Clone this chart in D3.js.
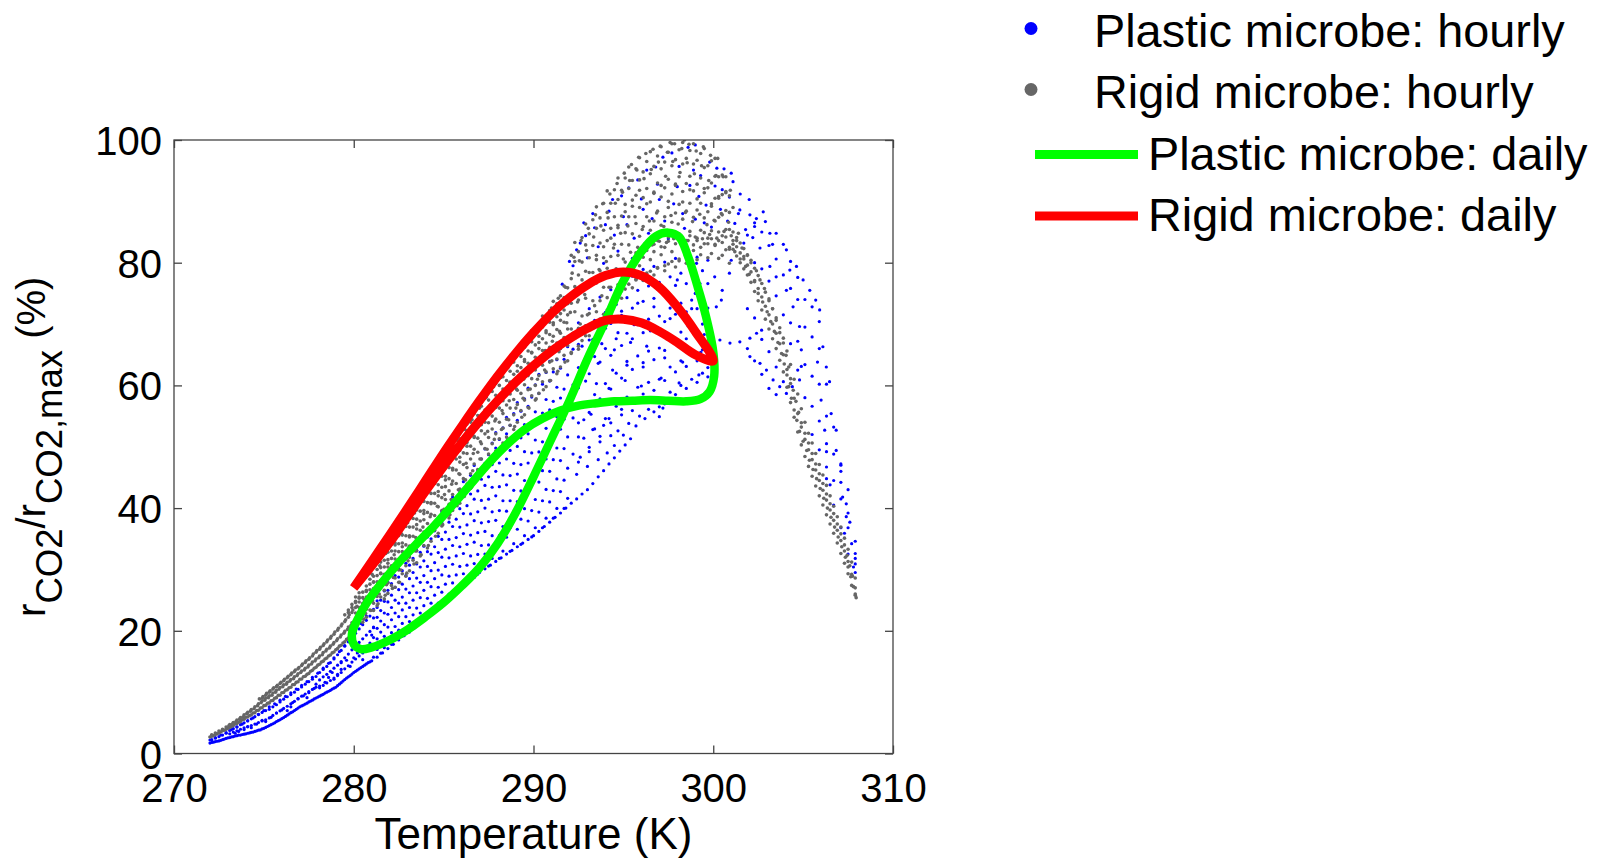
<!DOCTYPE html>
<html>
<head>
<meta charset="utf-8">
<script src="https://cdn.jsdelivr.net/npm/d3@7"></script>
<style>
  html, body { margin: 0; padding: 0; background: #fff; }
  svg { display: block; }
  text { font-family: "Liberation Sans", Arial, Helvetica, sans-serif; fill: #000; }
</style>
</head>
<body>
<svg id="chart" width="1603" height="859"></svg>
<script>
// Axis ticks
const xTicks = [270, 280, 290, 300, 310];
const yTicks = [0, 20, 40, 60, 80, 100];

// Legend entries
const legendLabels = [
  "Plastic microbe: hourly",
  "Rigid microbe: hourly",
  "Plastic microbe: daily",
  "Rigid microbe: daily"
];

// Rigid microbe, hourly values [temperature K, rCO2/rCO2,max %]
const rigidCool = [
  [272.0,2.7],[272.2,2.9],[272.4,3.2],[272.6,3.5],[272.8,3.8],
  [273.0,4.1],[273.05,4.5],[273.2,4.4],[273.25,4.8],[273.4,4.8],[273.45,5.2],[273.6,5.1],[273.65,5.6],
  [273.8,5.5],[273.85,6.0],[274.0,5.9],[274.05,6.5],[274.2,6.2],[274.25,6.9],[274.4,6.6],[274.45,7.3],
  [274.6,7.0],[274.65,7.8],[274.8,7.4],[274.85,8.3],[274.75,8.9],[275.0,7.8],[275.05,8.7],[274.95,9.3],
  [275.2,8.2],[275.25,9.1],[275.15,9.8],[275.4,8.6],[275.45,9.5],[275.35,10.2],[275.6,9.0],[275.65,10.0],
  [275.55,10.7],[275.8,9.5],[275.85,10.5],[275.75,11.1],[276.0,9.9],[276.05,10.9],[275.95,11.6],
  [276.2,10.3],[276.25,11.3],[276.15,12.1],[276.4,10.7],[276.45,11.8],[276.35,12.6],[276.6,11.2],
  [276.65,12.2],[276.55,13.1],[276.8,11.6],[276.85,12.7],[276.75,13.6],[277.0,12.1],[277.05,13.2],
  [276.95,14.0],[277.2,12.5],[277.25,13.6],[277.15,14.6],[277.4,12.9],[277.45,14.1],[277.35,15.1],
  [277.6,13.4],[277.65,14.6],[277.55,15.6],[277.8,13.9],[277.85,15.1],[277.75,16.2],[278.0,14.4],
  [278.05,15.6],[277.95,16.8],[278.2,14.9],[278.25,16.1],[278.15,17.3],[278.4,15.4],[278.45,16.7],
  [278.35,17.9],[278.6,15.9],[278.65,17.2],[278.55,18.5],[278.8,16.4],[278.85,17.8],[278.75,19.1],
  [279.0,16.9],[279.05,18.4],[278.95,19.8],[279.2,17.5],[279.25,19.0],[279.15,20.4],[279.4,18.0],
  [279.45,19.6],[279.35,21.1],[279.6,18.6],[279.65,20.2],[279.55,21.8],[279.7,23.0],[279.8,19.2],
  [279.85,20.9],[279.75,22.6],[279.9,23.8],[280.0,19.8],[280.05,21.6],[279.95,23.4],[280.1,24.8]
];

const rigidMid = [
  [280.15,20.8],[280.22,22.4],[280.18,24.0],[280.3,25.3],[280.25,21.6],
  [280.55,21.9],[280.62,23.6],[280.58,25.1],[280.7,26.6],[280.66,22.8],
  [280.95,23.3],[281.05,24.9],[281.0,26.4],[281.1,28.0],[281.02,29.2],
  [281.35,24.4],[281.42,26.0],[281.4,27.7],[281.5,29.4],[281.45,30.6],
  [281.75,25.8],[281.82,27.5],[281.85,29.3],[281.9,31.0],[281.78,32.6],
  [282.15,26.9],[282.2,28.7],[282.28,30.6],[282.25,32.4],[282.3,34.0],
  [282.55,27.9],[282.62,29.9],[282.6,31.8],[282.7,33.7],[282.65,35.8],
  [282.95,29.4],[283.02,31.4],[283.05,33.5],[283.1,35.5],[283.0,37.6],
  [283.35,30.9],[283.42,33.0],[283.45,35.2],[283.5,37.3],[283.38,39.2],
  [283.75,32.4],[283.8,34.6],[283.85,36.9],[283.9,39.1],[283.82,41.2],
  [284.15,33.9],[284.22,36.2],[284.25,38.6],[284.3,40.9],[284.2,43.0],
  [284.55,35.4],[284.62,37.8],[284.65,40.3],[284.7,42.7],[284.6,45.1],
  [284.95,37.3],[285.02,39.8],[285.05,42.2],[285.1,44.6],[285.0,47.0],
  [285.35,38.9],[285.42,41.4],[285.45,43.9],[285.5,46.5],[285.38,49.1],
  [285.75,40.4],[285.82,43.0],[285.85,45.6],[285.9,48.3],[285.78,51.0],
  [286.15,41.9],[286.22,44.6],[286.25,47.3],[286.3,50.1],[286.18,52.8],[286.3,53.7],
  [286.55,43.4],[286.62,46.1],[286.65,48.9],[286.7,51.7],[286.58,54.4],
  [286.95,45.3],[287.02,48.0],[287.05,50.8],[287.1,53.6],[287.0,56.3],[287.1,57.2],
  [287.35,46.8],[287.42,49.6],[287.45,52.5],[287.5,55.3],[287.38,58.1],
  [287.75,48.3],[287.82,51.2],[287.85,54.2],[287.9,57.1],[287.78,59.8],
  [288.15,49.8],[288.22,52.8],[288.25,55.9],[288.3,58.8],[288.18,61.3],
  [288.55,51.3],[288.62,54.4],[288.65,57.5],[288.7,60.5],[288.58,62.9],
  [288.95,53.3],[289.02,56.3],[289.05,59.4],[289.1,62.3],[289.0,64.6],
  [289.35,54.8],[289.42,57.9],[289.45,61.0],[289.5,63.9],[289.38,66.2],
  [289.75,56.3],[289.82,59.4],[289.85,62.6],[289.9,65.4],[289.78,67.6],
  [290.15,57.8],[290.22,61.0],[290.25,64.2],[290.3,67.0],[290.18,69.2],
  [290.55,59.3],[290.62,62.5],[290.65,65.7],[290.7,68.6],[290.58,70.7],
  [290.95,60.8],[291.02,64.0],[291.05,67.2],[291.1,70.2],[291.0,72.6],
  [291.35,62.3],[291.42,65.5],[291.45,68.8],[291.5,71.7],[291.38,74.2],
  [291.75,63.8],[291.82,67.0],[291.85,70.2],[291.9,73.3],[291.78,76.0]
];

const rigidPeak = [
  [292.1,65.2],[292.2,68.5],[292.05,71.9],[292.3,75.1],[292.15,78.3],[292.25,80.9],
  [292.5,66.4],[292.6,70.0],[292.45,73.6],[292.7,77.2],[292.55,80.3],[292.65,83.6],
  [292.9,68.1],[293.0,71.5],[292.85,74.8],[293.1,78.4],[292.95,82.0],[293.05,85.6],
  [293.3,69.3],[293.4,73.0],[293.25,76.8],[293.5,80.5],[293.35,84.2],[293.45,87.8],
  [293.7,70.8],[293.8,74.6],[293.65,78.9],[293.9,82.6],[293.75,86.0],[293.85,89.6],
  [294.1,72.3],[294.2,76.0],[294.05,80.2],[294.3,84.0],[294.15,87.3],[294.25,91.2],
  [294.5,73.9],[294.6,79.0],[294.45,82.4],[294.7,86.1],[294.55,89.7],[294.65,92.9],
  [294.9,75.4],[295.0,80.6],[294.85,84.8],[295.1,88.3],[294.95,91.5],[295.05,94.6],
  [295.3,76.5],[295.4,81.7],[295.25,86.0],[295.5,90.2],[295.35,93.4],[295.45,96.0],
  [295.7,77.3],[295.8,82.5],[295.65,87.5],[295.9,91.8],[295.75,95.1],[295.85,97.2],
  [296.1,78.0],[296.2,83.1],[296.05,85.4],[296.3,89.6],[296.15,93.7],[296.25,97.8],
  [296.5,78.6],[296.6,82.9],[296.45,86.8],[296.7,91.3],[296.55,95.2],[296.65,98.5],
  [296.9,79.1],[297.0,83.5],[296.85,88.1],[297.1,92.6],[296.95,96.4],[297.05,99.0],
  [297.3,79.5],[297.4,83.3],[297.25,85.9],[297.5,90.0],[297.35,94.1],[297.45,98.0],[297.6,99.6],
  [297.7,80.2],[297.8,83.9],[297.65,87.7],[297.9,92.8],[297.75,96.5],[297.85,99.4],
  [298.1,80.6],[298.2,84.1],[298.05,86.3],[298.3,89.9],[298.15,94.7],[298.25,98.6],[298.4,100.0],
  [298.5,81.3],[298.6,83.6],[298.45,88.2],[298.7,91.9],[298.55,96.3],[298.65,99.3],
  [298.9,82.0],[299.0,84.2],[298.85,86.7],[299.1,90.4],[298.95,94.5],[299.05,98.2],
  [299.3,82.5],[299.4,83.9],[299.25,87.9],[299.5,92.1],[299.35,95.8],[299.45,98.9],
  [299.7,83.1],[299.8,84.6],[299.65,86.2],[299.9,89.6],[299.75,93.4],[299.85,97.5],
  [300.1,82.8],[300.2,84.0],[300.05,86.9],[300.3,90.5],[300.15,94.2],[300.25,97.0],
  [300.5,83.3],[300.6,85.1],[300.45,88.0],[300.7,91.4],[300.55,94.0],
  [300.9,82.5],[301.0,84.4],[300.85,86.6],[301.1,89.0],[300.95,91.8],
  [296.3,82.0],[296.7,83.0],[297.1,82.6],[297.5,83.5],[297.9,84.2],[298.3,83.2],[298.7,84.4],
  [299.1,83.6],[299.5,84.9],[299.9,83.9],[300.3,85.0],[300.7,84.2],[301.1,83.0],[301.4,84.8],[301.7,81.0]
];

const rigidHot = [
  [301.2,81.8],[301.3,83.6],[301.5,80.6],[301.6,82.4],[301.8,79.4],[301.9,81.2],[302.0,78.1],
  [302.1,80.0],[302.3,76.9],[302.4,78.7],[302.5,75.0],[302.6,77.2],[302.75,73.6],[302.85,75.8],
  [303.0,72.0],[303.1,74.1],[303.2,70.4],[303.3,72.5],[303.4,68.8],[303.5,70.6],[303.6,67.0],
  [303.7,68.6],[303.8,65.2],[303.9,66.9],[303.95,63.5],[304.05,64.9],[304.1,61.7],[304.2,63.0],
  [304.2,59.8],[304.3,61.1],[304.35,57.9],[304.45,59.2],[304.5,56.0],[304.6,57.4],[304.65,54.3],
  [304.75,55.6],[304.8,52.5],[304.9,53.9],[305.0,50.9],[305.1,52.2],[305.2,49.4],[305.3,50.6],
  [305.35,47.8],[305.5,48.9],[305.55,46.3],[305.7,47.2],[305.75,44.8],[305.9,45.6],[305.95,43.2],
  [306.1,44.0],[306.15,41.6],[306.3,42.3],[306.35,40.0],[306.5,40.7],[306.55,38.5],[306.7,39.1],
  [306.75,36.9],[306.9,37.4],[306.95,35.3],[307.1,35.8],[307.15,33.7],[307.3,34.0],[307.35,32.0],
  [307.45,32.3],[307.5,30.4],[307.6,30.6],[307.65,28.8],[307.75,28.9],[307.8,27.2],[307.9,26.0],
  [307.95,25.4]
];

// Further rigid readings, one row per temperature: [T, r, r, ...]
const rigidColumnsCool = [
  [272.1,2.8,3.05],[272.3,3.1,3.35],[272.5,3.35,3.65],[272.7,3.7,3.95],[272.9,3.95,4.3],
  [273.1,4.25,4.7],[273.3,4.55,5.05],[273.5,4.9,5.45],[273.7,5.2,5.85],[273.9,5.6,6.3],
  [274.1,5.95,6.7],[274.3,6.3,7.15],[274.5,6.65,7.6],[274.7,7.05,8.1],[274.9,7.45,8.55,9.0],
  [275.1,7.85,9.0,9.5],[275.3,8.25,9.4,10.0],[275.5,8.65,9.85,10.5],[275.7,9.1,10.3,10.9],
  [275.9,9.5,10.75,11.4],[276.1,9.95,11.2,11.85],[276.3,10.4,11.6,12.35],[276.5,10.8,12.05,12.85],
  [276.7,11.25,12.5,13.35],[276.9,11.7,13.0,13.8],[277.1,12.15,13.45,14.35],[277.3,12.6,13.9,14.85],
  [277.5,13.05,14.4,15.35],[277.7,13.55,14.9,15.9],[277.9,14.05,15.4,16.5],[278.1,14.55,15.9,17.0],
  [278.3,15.05,16.45,17.6],[278.5,15.55,17.0,18.2],[278.7,16.05,17.5,18.8],[278.9,16.55,18.1,19.45],
  [279.1,17.1,18.7,20.1],[279.3,17.65,19.3,20.8],[279.5,18.2,19.9,21.5,22.6],[279.7,18.8,20.6,22.2,23.4],
  [279.9,19.4,21.3,23.0,24.3]
];

const rigidColumnsMid = [
  [280.1,20.6,21.8,22.9,23.8,24.6,25.5],[280.3,21.6,22.8,23.8,24.7,25.5,26.2],
  [280.5,21.4,22.5,23.6,24.5,25.4,26.3],[280.7,22.2,23.5,24.6,25.5,26.4,27.3],
  [280.9,23.4,24.7,25.8,26.7,27.6,28.4],[281.1,23.3,24.5,25.8,26.9,27.9,28.9],
  [281.3,24.1,25.6,26.9,28.0,29.0,30.0],[281.5,25.5,27.0,28.2,29.3,30.3,31.2],
  [281.7,25.2,26.6,28.0,29.2,30.4,31.5],[281.9,26.1,27.8,29.2,30.4,31.6,32.8],
  [282.1,27.4,29.1,30.6,31.8,33.0,34.1],[282.3,27.1,28.6,30.3,31.7,33.0,34.3],
  [282.5,27.9,29.9,31.5,32.9,34.2,35.5],[282.7,29.3,31.3,32.9,34.3,35.6,36.8],
  [282.9,28.9,30.6,32.5,34.0,35.5,37.0],[283.1,29.8,32.0,33.8,35.3,36.9,38.3],
  [283.3,31.5,33.6,35.4,36.9,38.3,39.7],[283.5,31.1,33.0,34.9,36.6,38.2,39.7],
  [283.7,32.2,34.5,36.4,37.9,39.5,41.0],[283.9,33.9,36.1,38.1,39.6,41.1,42.5],
  [284.1,33.5,35.5,37.5,39.3,40.9,42.6],[284.3,34.6,37.0,39.0,40.7,42.4,44.0],
  [284.5,36.4,38.8,40.8,42.4,44.0,45.5],[284.7,35.9,38.0,40.2,42.0,43.8,45.5],
  [284.9,37.1,39.6,41.7,43.4,45.2,46.8],[285.1,39.0,41.4,43.5,45.2,46.8,48.4],
  [285.3,38.4,40.6,42.8,44.8,46.6,48.4],[285.5,39.6,42.2,44.4,46.2,48.1,49.8],
  [285.7,41.4,44.0,46.2,48.0,49.7,51.4],[285.9,40.8,43.1,45.5,47.5,49.4,51.3],
  [286.1,42.0,44.8,47.1,49.0,51.0,52.8],[286.3,43.9,46.6,48.9,50.7,52.6,54.3],
  [286.5,43.2,45.6,48.0,50.1,52.0,54.0],[286.7,44.4,47.2,49.6,51.5,53.5,55.4],
  [286.9,46.3,49.1,51.4,53.3,55.1,56.9],[287.1,45.6,48.0,50.5,52.6,54.6,56.6],
  [287.3,46.9,49.7,52.1,54.0,56.0,57.9],[287.5,48.8,51.5,53.9,55.7,57.6,59.3],
  [287.7,48.1,50.5,52.9,55.0,57.0,59.0],[287.9,49.3,52.1,54.5,56.4,58.4,60.3],
  [288.1,51.3,54.0,56.3,58.1,60.0,61.7],[288.3,50.6,53.0,55.4,57.5,59.4,61.4],
  [288.5,51.6,54.5,56.8,58.8,60.8,62.7],[288.7,53.5,56.3,58.6,60.5,62.3,64.1],
  [288.9,52.8,55.2,57.7,59.8,61.8,63.8],[289.1,54.0,56.9,59.2,61.2,63.2,65.1],
  [289.3,55.9,58.7,61.0,62.9,64.7,66.5],[289.5,55.2,57.6,60.1,62.2,64.2,66.2],
  [289.7,56.4,59.3,61.6,63.6,65.6,67.5],[289.9,58.3,61.1,63.4,65.3,67.1,68.9],
  [290.1,57.6,60.0,62.5,64.6,66.6,68.6],[290.3,58.7,61.6,64.0,66.0,68.0,69.9],
  [290.5,60.6,63.3,65.7,67.6,69.5,71.3],[290.7,59.8,62.2,64.7,66.9,68.9,70.9],
  [290.9,60.8,63.8,66.2,68.3,70.3,72.2],[291.1,62.7,65.5,68.0,69.9,71.9,73.7],
  [291.3,61.9,64.3,66.9,69.1,71.2,73.3],[291.5,63.0,66.0,68.5,70.6,72.6,74.6],
  [291.7,64.9,67.8,70.3,72.3,74.3,76.2],[291.9,64.0,66.5,69.2,71.5,73.7,75.9]
];

const rigidColumnsPeak = [
  [292.1,65.4,69.2,73.4,77.4,81.2],[292.3,67.7,72.0,76.1,80.2,83.3],[292.5,65.9,69.3,73.9,78.0,81.8],
  [292.7,67.3,71.3,75.8,80.1,84.1],[292.9,69.7,74.2,78.6,82.9,86.3],[293.1,68.1,71.7,76.4,80.8,84.7],
  [293.3,69.6,73.8,78.4,82.8,87.0],[293.5,72.0,76.7,81.2,85.6,89.1],[293.7,70.1,73.8,78.7,83.2,87.3],
  [293.9,71.6,76.0,80.8,85.3,89.7],[294.1,74.3,79.1,83.6,88.2,91.7],[294.3,72.3,76.0,81.0,85.6,89.7],
  [294.5,73.8,78.2,83.0,87.5,91.9],[294.7,76.4,81.2,85.7,90.3,93.8],[294.9,74.2,78.0,83.0,87.6,91.8],
  [295.1,75.7,80.1,84.9,89.5,93.8],[295.3,78.1,82.9,87.5,92.1,95.6],[295.5,75.9,79.7,84.7,89.2,93.4],
  [295.7,77.2,81.6,86.4,91.0,95.3],[295.9,79.5,84.3,89.0,93.5,97.1],[296.1,77.1,80.9,85.9,90.6,94.8],
  [296.3,78.3,82.7,87.5,92.1,96.5],[296.5,80.5,85.3,89.9,94.5,98.1],[296.7,78.0,81.8,86.8,91.5,95.7],
  [296.9,79.2,83.6,88.4,93.0,97.4],[297.1,81.3,86.1,90.7,95.3,98.9],[297.3,78.7,82.5,87.5,92.2,96.4],
  [297.5,79.8,84.2,89.0,93.6,98.0],[297.7,81.8,86.6,91.2,95.8,99.4],[297.9,79.3,83.1,88.1,92.6,96.8],
  [298.1,80.3,84.7,89.5,94.0,98.4],[298.3,82.4,87.1,91.6,96.1,99.6],[298.5,79.9,83.6,88.4,92.9,97.0],
  [298.7,80.9,85.1,89.7,94.1,98.3],[298.9,82.9,87.4,91.7,96.1,99.4],[299.1,80.5,84.0,88.6,92.8,96.7],
  [299.3,81.3,85.3,89.7,93.8,97.8],[299.5,83.1,87.3,91.4,95.5,98.6],[299.7,80.8,84.0,88.3,92.2,95.8],
  [299.9,81.5,85.2,89.2,93.0,96.6],[300.1,83.0,86.8,90.5,94.1,97.0],[300.3,80.7,83.6,87.4,90.8,94.0],
  [300.5,81.2,84.4,87.8,91.1,94.3],[300.7,82.1,85.4,88.5,91.6,94.0],[300.9,79.9,82.2,85.4,88.2,90.9]
];

const rigidColumnsHot = [
  [301.1,82.2,83.6,85.0],[301.3,81.1,82.6,84.1],[301.5,80.0,81.6,83.2],[301.7,79.0,80.6,82.3],
  [301.9,78.0,79.6,81.3],[302.1,76.8,78.5,80.4],[302.3,75.3,77.1,79.1],[302.5,73.8,75.8,77.9],
  [302.7,72.3,74.4,76.6],[302.9,70.8,72.9,75.2],[303.1,69.2,71.5,73.8],[303.3,67.6,70.0,72.5],
  [303.5,66.0,68.5,71.0],[303.7,64.1,66.8,69.4],[303.9,62.2,65.0,67.7],[304.1,59.7,62.6,65.6],
  [304.3,57.2,60.3,63.4],[304.5,54.8,57.9,61.0],[304.7,52.4,55.4,58.6],[304.9,50.3,53.2,56.2],
  [305.1,48.4,51.2,54.0],[305.3,46.8,49.5,52.2],[305.5,45.2,47.9,50.6],[305.7,43.6,46.2,48.9],
  [305.9,42.0,44.5,47.1],[306.1,40.5,42.9,45.4],[306.3,38.9,41.3,43.7],[306.5,37.4,39.7,42.0],
  [306.7,35.9,38.0,40.3],[306.9,34.3,36.4,38.6],[307.1,32.6,34.7,36.9],[307.3,31.0,33.0,35.1],
  [307.5,29.3,31.3,33.3],[307.7,27.4,29.2,31.2],[307.9,25.8,27.0,28.6]
];

// Plastic microbe, hourly values [temperature K, rCO2/rCO2,max %]
const plasticCool = [
  [272.0,1.7],[272.2,1.85],[272.4,2.0],[272.6,2.15],[272.8,2.35],[273.0,2.55],[273.2,2.7],[273.4,2.85],
  [273.6,3.0],[273.8,3.1],[274.0,3.2],[274.2,3.35],[274.4,3.5],[274.6,3.7],[274.8,3.85],[275.0,4.1],
  [275.2,4.4],[275.4,4.7],[275.6,5.0],[275.8,5.35],[276.0,5.7],[276.2,6.05],[276.4,6.45],[276.6,6.8],
  [276.8,7.2],[277.0,7.6],[277.2,7.9],[277.4,8.2],[277.6,8.55],[277.8,8.9],[278.0,9.2],[278.2,9.5],
  [278.4,9.85],[278.6,10.15],[278.8,10.5],[279.0,10.8],[279.2,11.3],[279.4,11.8],[279.6,12.3],
  [279.8,12.7],[280.0,13.2],[280.2,13.6],[280.4,14.0],[280.6,14.4],[280.8,14.8],[281.0,15.1],
  [272.0,2.2],[272.3,2.6],[272.6,3.0],[272.9,3.4],[273.2,3.9],[273.5,4.3],[273.8,4.8],[274.1,5.3],
  [274.4,5.8],[274.7,6.4],[275.0,7.0],[275.3,7.6],[275.6,8.1],[275.9,8.7],[276.2,9.3],[276.5,9.9],
  [276.8,10.5],[277.1,11.1],[277.4,11.7],[277.7,12.4],[278.0,13.1],[278.3,13.9],[278.6,14.7],
  [278.9,15.6],[279.2,16.6],[279.5,17.6],[279.8,18.8],[280.1,20.0],[280.4,21.2],[280.7,22.4],
  [273.4,3.3],[273.6,3.6],[273.9,3.9],[274.1,4.4],[274.3,4.2],[274.6,4.8],[274.9,5.4],[275.1,5.2],
  [275.4,5.9],[275.7,6.6],[276.0,7.1],[276.3,7.0],[276.5,7.6],[276.6,8.3],[276.9,8.9],[277.2,9.4],
  [277.4,9.1],[277.5,9.9],[277.8,10.6],[277.9,11.3],[278.1,11.0],[278.4,11.6],[278.6,12.4],
  [278.8,13.2],[278.9,12.1],[279.1,12.9],[279.3,13.7],[279.3,14.8],[279.6,15.2],[279.8,14.2],
  [280.0,15.6],[280.2,16.4],[280.3,17.5],[280.5,15.3],[280.7,16.8],[280.9,18.0],[281.0,19.3],[281.1,20.6]
];

const plasticMid = [
  [281.3,15.7],[281.6,16.4],[281.9,17.1],[282.2,17.8],[282.5,18.5],[282.8,19.2],[283.1,19.8],[283.4,20.5],
  [283.7,21.3],[284.0,22.0],[284.3,22.7],[284.6,23.5],[284.9,24.2],[285.2,25.0],[285.5,25.7],[285.8,26.5],
  [286.1,27.2],[286.4,28.0],[286.7,28.7],[287.0,29.5],[287.3,30.1],[287.6,30.7],[287.9,31.3],[288.2,31.9],
  [288.5,32.5],[288.8,33.1],[289.1,33.7],[289.4,34.3],[289.7,34.9],[290.0,35.5],[290.3,36.2],[290.6,37.0],
  [290.9,37.7],[291.2,38.5],[291.5,39.2],[291.8,40.0],[292.1,40.8],[292.4,41.5],[292.7,42.3],[293.0,43.0],
  [293.3,44.0],[293.6,45.1],[293.9,46.1],[294.2,47.2],[294.5,48.2],[294.8,49.3],[295.1,50.3],[295.4,51.3],
  [292.4,45.5],[292.6,48.3],[292.5,51.6],[292.8,54.4],[293.0,46.8],[293.1,49.9],[293.3,52.8],
  [293.2,55.3],[293.6,47.9],[293.7,50.8],[293.9,53.5],[294.1,49.0],[294.3,51.8],[294.2,54.6],
  [294.5,50.2],[294.7,52.6],[294.9,55.2],[295.0,51.9],[295.3,53.8],[295.5,55.9],[295.7,53.4],
  [295.9,55.0],[296.2,54.6],[296.4,56.1],[296.7,55.7],[297.0,54.9],[297.2,56.3]
];

const plasticPeak = [
  [292.3,59.8],[292.5,62.9],[292.7,66.4],[292.9,60.7],[293.1,64.1],[293.3,67.5],[293.5,60.3],
  [293.6,63.6],[293.8,66.8],[294.0,69.3],[294.2,59.5],[294.4,62.5],[294.5,65.8],[294.7,68.6],
  [294.9,72.1],[295.1,60.8],[295.2,63.9],[295.4,67.0],[295.6,69.9],[295.8,73.4],[296.0,59.9],
  [296.1,63.0],[296.3,66.4],[296.5,68.9],[296.7,72.8],[296.9,75.7],[297.1,61.2],[297.3,64.5],
  [297.4,67.6],[297.6,70.9],[297.8,73.9],[298.0,77.2],[298.1,60.4],[298.3,63.8],[298.5,66.2],
  [298.6,69.7],[298.8,72.5],[299.0,75.0],[299.2,61.7],[299.3,65.4],[299.5,68.3],[299.7,62.9],
  [291.6,76.5],[292.0,80.2],[292.2,79.5],[292.6,83.2],[292.8,86.5],[293.0,80.8],[293.4,85.7],
  [293.9,79.9],[294.2,88.4],[294.5,84.5],[294.9,90.9],[295.2,86.2],[295.5,80.7],[295.8,93.5],
  [296.1,88.7],[296.4,84.8],[296.8,95.6],[297.0,90.3],[297.3,86.8],[297.7,97.9],[298.0,92.4],
  [298.3,88.0],[298.6,98.8],[298.9,95.1],[299.2,90.8],[299.5,86.5],[299.8,96.4],[300.1,92.5],
  [300.4,88.7],[300.6,95.3],[300.9,90.7],[301.2,86.4],[301.5,91.2],[301.8,85.4],[302.2,84.1],
  [302.4,87.2],[301.0,94.6],[299.0,99.2],
  [292.4,82.1],[292.9,84.4],[293.3,88.0],[293.6,82.6],[294.0,86.2],[294.4,90.3],[294.7,81.9],
  [295.0,87.5],[295.3,92.2],[295.6,84.0],[296.0,90.4],[296.3,95.1],[296.6,87.2],[296.9,92.8],
  [297.2,97.2],[297.5,83.9],[297.8,89.6],[298.1,95.7],[298.4,85.6],[298.7,92.6],[299.0,87.1],
  [299.3,94.2],[299.6,89.4],[299.9,85.8],[300.2,95.4],[300.5,91.9],[300.8,86.8],[301.1,93.2],
  [301.4,88.0],[301.7,83.2],[302.0,90.3],[302.3,85.9],[302.6,82.4],[302.9,86.7],[303.3,83.0]
];

const plasticHot = [
  [300.08,77.7],[300.5,75.5],[300.9,78.3],[301.0,80.4],[299.07,79.9],[299.26,76.6],[300.17,72.8],
  [300.45,73.9],[300.37,67.4],[300.93,66.9],[301.48,67.1],[302.04,67.7],[302.41,68.5],[302.69,69.0],
  [302.04,64.7],[302.6,63.6],[302.96,62.5],[303.33,60.9],[303.7,59.8],[304.07,58.7],[304.4,59.8],
  [301.48,88.6],[302.04,87.8],[302.78,88.3],[303.15,84.8],[303.5,84.8],[304.07,82.1],[304.26,78.8],
  [304.63,79.4],[305.0,77.2],[305.37,75.5],[305.7,73.9],[305.92,72.3],[303.15,79.4],[303.5,77.7],
  [304.07,75.5],[304.44,72.8],[304.8,69.6],[304.9,65.8],[304.9,63.1],[304.8,60.9],
  [306.1,66.3],[306.29,63.0],[306.47,60.6],[306.56,55.4],[306.84,52.7],[306.84,49.4],[307.1,47.2],
  [307.2,41.8],[307.4,40.7],[307.6,37.7],[307.7,34.2],[307.9,32.6],[307.9,30.9],[307.8,30.4],
  [306.0,57.6],[306.2,52.7],[306.3,49.2],[306.3,46.7],[306.5,43.8],[307.1,46.0],[307.4,38.6],
  [307.3,35.9],[305.8,63.8]
];

// Further plastic readings, one row per temperature: [T, r, r, ...]
const plasticColumnsCool = [
  [272.1,1.8,2.25],[272.3,1.95,2.5],[272.5,2.05,2.75],[272.7,2.25,3.0],[272.9,2.45,3.3],
  [273.1,2.6,3.2,3.75],[273.3,2.75,3.5,4.05],[273.5,2.9,3.7,4.35],[273.7,3.0,3.95,4.7],
  [273.9,3.15,4.2,5.0],[274.1,3.3,4.35,5.35],[274.3,3.45,4.55,5.65],[274.5,3.6,4.8,6.0],
  [274.7,3.8,5.05,6.35],[274.9,4.0,5.3,6.7],[275.1,4.25,5.5,7.0],[275.3,4.55,5.8,7.2],
  [275.5,4.85,6.2,7.6],[275.7,5.2,6.6,7.95],[275.9,5.5,6.95,8.4],[276.1,5.85,7.35,8.85],
  [276.3,6.25,7.7,9.25],[276.5,6.65,8.1,9.6],[276.7,7.0,8.5,10.0],[276.9,7.4,8.95,10.45],
  [277.1,7.75,9.35,10.85],[277.3,8.05,9.7,11.3],[277.5,8.4,10.1,11.7],[277.7,8.7,10.45,12.1],
  [277.9,9.05,10.8,12.55],[278.1,9.35,10.7,12.0,13.2],[278.3,9.65,11.1,12.5,13.7],
  [278.5,10.0,11.5,12.9,14.2],[278.7,10.3,11.9,13.4,14.8],[278.9,10.65,12.3,13.9,15.4],
  [279.1,11.05,12.7,14.4,16.1],[279.3,11.55,13.2,15.0,16.8],[279.5,12.05,13.8,15.6,17.5],
  [279.7,12.5,14.3,16.2,18.2],[279.9,12.95,14.9,16.9,18.9],[280.1,13.4,15.4,17.5,19.6],
  [280.3,13.8,15.9,18.1,20.3],[280.5,14.2,16.4,18.7,21.0],[280.7,14.6,16.9,19.3,21.7],
  [280.9,14.95,17.4,19.9,22.4]
];

const plasticColumnsMid = [
  [281.1,15.7,17.2,18.9,20.5,22.1,23.5],[281.3,16.95,18.7,20.4,22.2,23.8,24.9],
  [281.5,16.35,18.0,19.8,21.6,23.3,25.0],[281.7,17.25,19.1,21.0,22.9,24.8,26.5],
  [281.9,18.6,20.6,22.7,24.7,26.6,27.9],[282.1,17.8,19.7,21.8,23.8,25.8,27.7],
  [282.3,18.7,20.7,22.9,25.0,27.1,29.0],[282.5,20.1,22.3,24.5,26.7,28.75,30.1],
  [282.7,19.15,21.2,23.4,25.5,27.6,29.8],[282.9,20.1,22.3,24.5,26.8,29.0,31.0],
  [283.1,21.5,23.8,26.2,28.5,30.7,32.2],[283.3,20.45,22.6,25.0,27.3,29.5,31.8],
  [283.5,21.4,23.7,26.2,28.6,30.9,33.1],[283.7,22.9,25.4,27.9,30.4,32.8,34.3],
  [283.9,21.8,24.1,26.6,29.0,31.4,33.8],[284.1,22.8,25.3,27.9,30.5,32.9,35.3],
  [284.3,24.5,27.2,29.8,32.5,35.0,36.7],[284.5,23.35,25.8,28.5,31.1,33.7,36.3],
  [284.7,24.5,27.1,29.9,32.75,35.4,37.9],[284.9,26.3,29.1,32.0,34.9,37.6,39.4],
  [285.1,24.95,27.6,30.5,33.3,36.1,38.9],[285.3,26.0,28.9,31.9,34.9,37.7,40.4],
  [285.5,27.8,30.85,33.9,37.0,39.9,41.8],[285.7,26.3,29.1,32.2,35.2,38.2,41.2],
  [285.9,27.4,30.5,33.7,36.9,39.9,42.8],[286.1,29.3,32.6,35.85,39.1,42.2,44.3],
  [286.3,27.75,30.7,34.1,37.25,40.4,43.6],[286.5,29.0,32.2,35.6,39.05,42.3,45.35],
  [286.7,30.95,34.45,37.95,41.45,44.75,46.95],[286.9,29.25,32.45,36.0,39.4,42.8,46.2],
  [287.1,30.5,33.9,37.6,41.25,44.7,48.0],[287.3,32.5,36.2,40.0,43.7,47.3,49.65],
  [287.5,30.55,34.0,37.8,41.45,45.1,48.7],[287.7,31.8,35.5,39.4,43.4,47.1,50.6],
  [287.9,33.9,38.0,42.0,46.0,49.8,52.3],[288.1,31.8,35.5,39.6,43.5,47.35,51.2],
  [288.3,33.0,37.0,41.2,45.4,49.35,53.1],[288.5,35.25,39.5,43.8,48.0,52.1,54.8],
  [288.7,32.95,36.8,41.2,45.3,49.4,53.5],[288.9,34.2,38.4,42.9,47.3,51.5,55.4],
  [289.1,36.55,41.05,45.55,50.05,54.3,57.2],[289.3,34.1,38.2,42.8,47.1,51.45,55.8],
  [289.5,35.5,39.9,44.5,49.2,53.6,57.8],[289.7,37.9,42.6,47.35,52.1,56.6,59.55],
  [289.9,35.3,39.6,44.4,49.0,53.5,58.1],[290.1,36.8,41.4,46.25,51.1,55.7,60.1],
  [290.3,39.35,44.25,49.15,54.05,58.7,61.8],[290.5,36.8,41.2,46.1,50.8,55.5,60.2],
  [290.7,38.35,43.05,48.0,53.0,57.7,62.1],[290.9,41.0,46.0,51.0,56.0,60.7,63.9],
  [291.1,38.35,42.85,47.9,52.65,57.4,62.2],[291.3,39.95,44.75,49.8,54.9,59.7,64.2],
  [291.5,42.7,47.75,52.85,57.95,62.8,66.0],[291.7,39.95,44.55,49.7,54.5,59.4,64.25],
  [291.9,41.6,46.5,51.6,56.8,61.7,66.3]
];

const plasticColumnsPeak = [
  [292.2,48.8,54.7,60.1,65.9],[292.5,47.5,53.9,59.6,66.7,70.2],[292.8,51.4,57.2,63.5,69.0],
  [293.1,49.2,55.6,61.9,67.4,72.5],[293.4,52.9,58.5,64.7,70.6],[293.7,51.7,57.8,63.8,69.3,74.4],
  [294.0,54.6,60.3,66.0,71.9],[294.3,53.9,59.4,64.9,70.1,75.6],[294.6,56.6,62.0,67.6,73.2],
  [294.9,56.1,61.2,66.5,71.4,76.6],[295.2,58.1,63.3,68.5,74.3],[295.5,57.4,62.6,67.6,72.6,77.8],
  [295.8,59.7,64.8,69.9,75.5],[296.1,58.6,63.7,68.6,73.7,78.9],[296.4,60.5,65.6,70.8,76.2],
  [296.7,59.2,64.2,69.1,74.2,79.4],[297.0,56.5,61.0,66.1,71.3,76.8],[297.3,57.0,60.8,65.7,70.4,75.2,80.1],
  [297.6,58.9,63.0,67.8,72.6,77.7],[297.9,58.5,62.2,67.0,71.6,76.3,80.7],[298.2,60.0,64.0,68.7,73.4,78.3],
  [298.5,59.5,63.1,67.6,72.0,76.6,80.8],[298.8,61.0,64.9,69.4,73.9,78.6],[299.1,60.5,64.0,68.3,72.5,76.8,80.9],
  [299.4,62.0,65.8,70.0,74.3,78.7],[299.7,61.4,64.6,68.7,72.6,76.6,80.4]
];

const plasticColumnsHot = [
  [301.9,66.0,72.5,84.5],[302.3,64.0,71.0,80.0,86.5],[302.7,61.8,67.5,79.0,85.0],
  [303.1,59.5,65.5,77.0,82.8],[303.5,58.5,63.0,74.6,80.6],[303.9,60.6,71.5,78.0,83.0],
  [304.3,66.8,70.2,75.8,80.2],[304.7,62.5,67.2,74.0,77.6],[305.1,58.0,63.4,69.5,74.0],
  [305.5,52.0,56.6,61.5,67.9,72.8],[305.9,49.5,54.2,60.2,66.0,70.4],[306.3,44.8,50.5,55.0,60.2],
  [306.7,40.5,44.5,48.8,53.2],[307.1,36.8,41.5,44.2,47.0],[307.5,32.5,36.8,39.2,43.0],
  [307.9,29.5,31.8,34.6]
];

const unfold = rows => rows.flatMap(row => row.slice(1).map(r => [row[0], r]));

const plasticHourly = [
  ...plasticCool, ...plasticMid, ...plasticPeak, ...plasticHot,
  ...unfold(plasticColumnsCool), ...unfold(plasticColumnsMid),
  ...unfold(plasticColumnsPeak), ...unfold(plasticColumnsHot)
];
const rigidHourly = [
  ...rigidCool, ...rigidMid, ...rigidPeak, ...rigidHot,
  ...unfold(rigidColumnsCool), ...unfold(rigidColumnsMid),
  ...unfold(rigidColumnsPeak), ...unfold(rigidColumnsHot)
];

// Daily-mean loops [temperature K, rCO2/rCO2,max %]
const plasticDaily = [
  [280.4,17.0],[281,17.3],[282,18.5],[283,20.2],[284,22.3],[285,24.6],[286,27.3],[287,30.3],
  [288,34.2],[289,39.2],[290,45.1],[291,51.3],[292,57.5],[293,64.3],[294,70.5],[295,77.0],
  [296,81.8],[296.8,84.3],[297.5,84.9],[298.1,84.2],[298.6,81.0],[299.1,76.4],[299.6,71.2],
  [300.0,65.5],[300.05,61.5],[299.8,59.0],[299.3,57.8],[298.5,57.4],[297.5,57.5],[296.5,57.6],
  [295.5,57.5],[294.5,57.4],[293.5,57.1],[292.5,56.7],[291.5,55.9],[290.5,54.6],[289.5,52.8],
  [288.5,50.3],[287.5,47.3],[286.5,43.9],[285.5,40.5],[284.5,37.2],[283.5,34.2],[282.5,31.1],
  [281.5,27.6],[280.8,24.9],[280.2,21.8],[279.9,19.5],[280.0,17.8]
];

const rigidDaily = [
  [280.0,27.0],[281.0,31.3],[282.0,35.6],[283.0,40.0],[284.0,44.5],[285.0,49.0],[286.0,53.3],
  [287.0,57.5],[288.0,61.5],[289.0,65.2],[290.0,68.6],[291.0,71.7],[292.0,74.3],[293.0,76.4],
  [294.0,77.9],[295.0,78.5],[296.0,77.9],[297.0,76.0],[298.0,72.8],[299.0,68.8],[300.0,64.0],
  [299.0,65.0],[298.0,67.0],[297.0,68.8],[296.0,70.2],[295.0,70.8],[294.0,70.6],[293.0,69.3],
  [292.0,67.6],[291.0,65.6],[290.0,63.2],[289.0,60.5],[288.0,57.5],[287.0,54.2],[286.0,50.6],
  [285.0,46.8],[284.0,42.8],[283.0,38.6],[282.0,34.4],[281.0,30.6],[280.0,27.0]
];

// ---- layout ----
const svg = d3.select("#chart");
svg.append("rect").attr("width", 1603).attr("height", 859).attr("fill", "#fff");

const plot = { left: 174, right: 893, top: 140, bottom: 753.5 };
const x = d3.scaleLinear().domain([270, 310]).range([plot.left, plot.right]);
const y = d3.scaleLinear().domain([0, 100]).range([plot.bottom, plot.top]);

const colors = { plastic: "#0000ff", rigid: "#666666", plasticDaily: "#00ff00", rigidDaily: "#ff0000" };

svg.append("clipPath").attr("id", "plotClip")
  .append("rect")
  .attr("x", plot.left).attr("y", plot.top)
  .attr("width", plot.right - plot.left).attr("height", plot.bottom - plot.top);

const marks = svg.append("g").attr("clip-path", "url(#plotClip)");

// hourly scatter
marks.append("g").selectAll("circle").data(plasticHourly).join("circle")
  .attr("cx", d => x(d[0])).attr("cy", d => y(d[1])).attr("r", 1.6)
  .attr("fill", colors.plastic);

marks.append("g").selectAll("circle").data(rigidHourly).join("circle")
  .attr("cx", d => x(d[0])).attr("cy", d => y(d[1])).attr("r", 1.8)
  .attr("fill", colors.rigid);

// daily loops
const closedLine = d3.line().x(d => x(d[0])).y(d => y(d[1])).curve(d3.curveCatmullRomClosed.alpha(0.5));
const openLine = d3.line().x(d => x(d[0])).y(d => y(d[1])).curve(d3.curveCatmullRom.alpha(0.5));

marks.append("path").datum(plasticDaily).attr("d", closedLine)
  .attr("fill", "none").attr("stroke", colors.plasticDaily).attr("stroke-width", 8.5)
  .attr("stroke-linejoin", "round");

marks.append("path").datum(rigidDaily).attr("d", openLine)
  .attr("fill", "none").attr("stroke", colors.rigidDaily).attr("stroke-width", 9)
  .attr("stroke-linejoin", "round").attr("stroke-linecap", "butt");

// axes (box with inward ticks on all sides)
const axisG = svg.append("g");
const tickLen = 8;
const axisColor = "#444";

axisG.append("rect")
  .attr("x", plot.left).attr("y", plot.top)
  .attr("width", plot.right - plot.left).attr("height", plot.bottom - plot.top)
  .attr("fill", "none").attr("stroke", axisColor).attr("stroke-width", 1.3);

const xAxisB = d3.axisBottom(x).tickValues(xTicks).tickSizeInner(-tickLen).tickSizeOuter(0).tickFormat(d3.format("d"));
const xAxisT = d3.axisTop(x).tickValues(xTicks).tickSizeInner(-tickLen).tickSizeOuter(0).tickFormat("");
const yAxisL = d3.axisLeft(y).tickValues(yTicks).tickSizeInner(-tickLen).tickSizeOuter(0).tickFormat(d3.format("d"));
const yAxisR = d3.axisRight(y).tickValues(yTicks).tickSizeInner(-tickLen).tickSizeOuter(0).tickFormat("");

function styleAxis(g) {
  g.select(".domain").remove();
  g.selectAll(".tick line").attr("stroke", axisColor).attr("stroke-width", 1.3);
  g.selectAll(".tick text")
    .attr("font-family", '"Liberation Sans", Arial, Helvetica, sans-serif')
    .attr("font-size", 40).attr("fill", "#000");
}

const gxb = axisG.append("g").attr("transform", `translate(0,${plot.bottom})`).call(xAxisB).call(styleAxis);
gxb.selectAll(".tick text").attr("dy", null).attr("y", 48.5);
axisG.append("g").attr("transform", `translate(0,${plot.top})`).call(xAxisT).call(styleAxis);
const gyl = axisG.append("g").attr("transform", `translate(${plot.left},0)`).call(yAxisL).call(styleAxis);
gyl.selectAll(".tick text").attr("dy", null).attr("x", -12).attr("y", 14.5);
axisG.append("g").attr("transform", `translate(${plot.right},0)`).call(yAxisR).call(styleAxis);

// axis titles
svg.append("text")
  .attr("x", (plot.left + plot.right) / 2).attr("y", 849)
  .attr("text-anchor", "middle").attr("font-size", 44)
  .text("Temperature (K)");

const yTitle = svg.append("text")
  .attr("transform", `translate(45,${(plot.top + plot.bottom) / 2}) rotate(-90)`)
  .attr("text-anchor", "middle").attr("font-size", 40);
yTitle.append("tspan").text("r");
yTitle.append("tspan").attr("font-size", 36.5).attr("dy", 17).text("CO2");
yTitle.append("tspan").attr("dy", -17).text("/r");
yTitle.append("tspan").attr("font-size", 36.5).attr("dy", 17).text("CO2,max");
yTitle.append("tspan").attr("dy", -17).text("\u00a0(%)");

// legend
const legend = svg.append("g");
const legendRows = [
  { label: legendLabels[0], kind: "dot", color: colors.plastic, y: 28.5, textX: 1094, base: 46.5 },
  { label: legendLabels[1], kind: "dot", color: colors.rigid, y: 89.5, textX: 1094, base: 107.5 },
  { label: legendLabels[2], kind: "line", color: colors.plasticDaily, y: 154.5, textX: 1148, base: 169.5 },
  { label: legendLabels[3], kind: "line", color: colors.rigidDaily, y: 216, textX: 1148, base: 231 }
];
legendRows.forEach(row => {
  if (row.kind === "dot") {
    legend.append("circle").attr("cx", 1031).attr("cy", row.y).attr("r", 6.5).attr("fill", row.color);
  } else {
    legend.append("line").attr("x1", 1035).attr("x2", 1138).attr("y1", row.y).attr("y2", row.y)
      .attr("stroke", row.color).attr("stroke-width", 9);
  }
  legend.append("text").attr("x", row.textX).attr("y", row.base).attr("font-size", 46.8).text(row.label);
});
</script>
</body>
</html>
